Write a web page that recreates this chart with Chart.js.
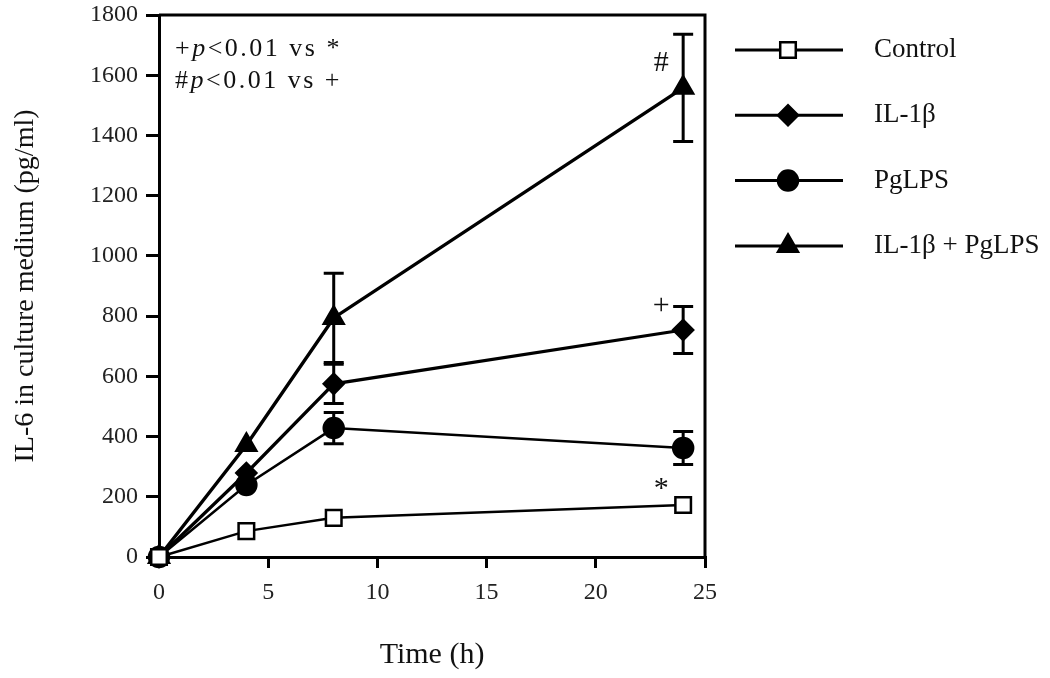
<!DOCTYPE html>
<html>
<head>
<meta charset="utf-8">
<script src="https://cdn.jsdelivr.net/npm/chart.js@4.4.1/dist/chart.umd.min.js"></script>
<style>
  html, body { margin: 0; padding: 0; background: #fff; }
  #wrap { width: 1050px; height: 678px; }
</style>
</head>
<body>
<div id="wrap"><canvas id="il6Chart" width="1050" height="678"></canvas></div>
<script>
// time points (h) and mean IL-6 values (pg/ml)
const hours = [0, 4, 8, 24];
const control = [0, 86, 130, 173];
const il1b = [0, 279, 575, 754];
const pglps = [0, 239, 428, 362];
const combo = [0, 372, 794, 1558];

// error bars (SD)
const controlSd = [0, 0, 0, 0];
const il1bSd = [0, 0, 65, 78];
const pglpsSd = [0, 0, 52, 55];
const comboSd = [0, 0, 148, 178];

const seriesNames = ['Control', 'IL-1β', 'PgLPS', 'IL-1β + PgLPS'];
const sigMarks = ['*', '+', '', '#'];
const xTickValues = [0, 5, 10, 15, 20, 25];
const yTickValues = [0, 200, 400, 600, 800, 1000, 1200, 1400, 1600, 1800];

const serif = '"Liberation Serif", "Times New Roman", serif';
Chart.defaults.font.family = serif;
Chart.defaults.color = '#222';

function points(values) {
    return hours.map((h, i) => ({ x: h, y: values[i] }));
}

// error bars under the markers
const errorBars = {
    id: 'errorBars',
    beforeDatasetsDraw(chart) {
        const ctx = chart.ctx, xs = chart.scales.x, ys = chart.scales.y;
        ctx.save();
        ctx.strokeStyle = '#000';
        ctx.lineWidth = 3;
        chart.data.datasets.forEach(ds => {
            ds.data.forEach((p, i) => {
                const sd = ds.sd[i];
                if (!sd) return;
                const x = xs.getPixelForValue(p.x);
                const yTop = ys.getPixelForValue(p.y + sd);
                const yBot = ys.getPixelForValue(p.y - sd);
                ctx.beginPath();
                ctx.moveTo(x, yTop); ctx.lineTo(x, yBot);
                ctx.moveTo(x - 10, yTop); ctx.lineTo(x + 10, yTop);
                ctx.moveTo(x - 10, yBot); ctx.lineTo(x + 10, yBot);
                ctx.stroke();
            });
        });
        ctx.restore();
    }
};

// box, significance notes, legend on the right
const extras = {
    id: 'extras',
    afterDraw(chart) {
        const ctx = chart.ctx, area = chart.chartArea;
        const xs = chart.scales.x, ys = chart.scales.y;
        ctx.save();

        // top + right frame
        ctx.strokeStyle = '#000';
        ctx.lineWidth = 3;
        ctx.beginPath();
        ctx.moveTo(area.left, area.top);
        ctx.lineTo(area.right, area.top);
        ctx.lineTo(area.right, area.bottom);
        ctx.stroke();

        // stat notes
        ctx.fillStyle = '#111';
        ctx.textBaseline = 'alphabetic';
        if ('letterSpacing' in ctx) ctx.letterSpacing = '2.5px';
        const notes = [['+', 'p', '<0.01 vs *'], ['#', 'p', '<0.01 vs +']];
        notes.forEach((parts, k) => {
            let x = area.left + 16;
            const y = 56 + k * 32;
            parts.forEach((txt, j) => {
                ctx.font = (j === 1 ? 'italic ' : '') + '26px ' + serif;
                ctx.fillText(txt, x, y);
                x += ctx.measureText(txt).width;
            });
        });
        if ('letterSpacing' in ctx) ctx.letterSpacing = '0px';

        // marks next to the 24 h points
        ctx.font = '30px ' + serif;
        ctx.textAlign = 'center';
        ctx.textBaseline = 'middle';
        const offsets = { '*': -16, '+': 0, '#': 29 };
        chart.data.datasets.forEach((ds, i) => {
            const m = sigMarks[i];
            if (!m) return;
            const last = ds.data[ds.data.length - 1];
            const x = xs.getPixelForValue(last.x) - 22;
            const y = ys.getPixelForValue(last.y + ds.sd[ds.sd.length - 1]) + offsets[m];
            ctx.fillText(m, x, y);
        });

        // legend
        ctx.textAlign = 'left';
        ctx.font = '27px ' + serif;
        chart.data.datasets.forEach((ds, i) => {
            const y = 50 + i * 65.3;
            ctx.strokeStyle = '#000';
            ctx.lineWidth = 3;
            ctx.beginPath();
            ctx.moveTo(735, y);
            ctx.lineTo(843, y);
            ctx.stroke();
            ctx.fillStyle = ds.pointBackgroundColor;
            ctx.lineWidth = ds.pointBorderWidth;
            Chart.helpers.drawPoint(ctx, {
                pointStyle: ds.pointStyle, radius: ds.pointRadius,
                borderWidth: ds.pointBorderWidth, rotation: 0
            }, 788, y);
            ctx.fillStyle = '#111';
            ctx.fillText(ds.label, 874, y);
        });
        ctx.restore();
    }
};

function series(label, values, sd, style, radius, fill, width) {
    return {
        label: label,
        data: points(values),
        sd: sd,
        borderColor: '#000',
        borderWidth: width,
        pointStyle: style,
        pointRadius: radius,
        pointHoverRadius: radius,
        pointBackgroundColor: fill,
        pointBorderColor: '#000',
        pointBorderWidth: 2.5,
        tension: 0,
        clip: false
    };
}

new Chart(document.getElementById('il6Chart'), {
    type: 'line',
    data: {
        datasets: [
            series(seriesNames[0], control, controlSd, 'rect', 11, '#fff', 2.5),
            series(seriesNames[1], il1b, il1bSd, 'rectRot', 10, '#000', 3.2),
            series(seriesNames[2], pglps, pglpsSd, 'circle', 10, '#000', 2.5),
            series(seriesNames[3], combo, comboSd, 'triangle', 11.5, '#000', 3.4)
        ]
    },
    options: {
        responsive: false,
        animation: false,
        layout: { padding: { top: 15, right: 345, left: 0, bottom: 0 } },
        plugins: { legend: { display: false }, tooltip: { enabled: false } },
        scales: {
            x: {
                type: 'linear',
                min: 0, max: 25,
                afterBuildTicks: s => { s.ticks = xTickValues.map(v => ({ value: v })); },
                afterFit: s => { s.height = 121; s.paddingLeft = 0; s.paddingRight = 0; },
                grid: { drawOnChartArea: false, tickLength: 11, color: '#000', lineWidth: 3 },
                border: { color: '#000', width: 3 },
                ticks: { padding: 10, font: { size: 24 }, color: '#222', callback: v => String(v) },
                title: { display: true, text: 'Time (h)', font: { size: 30 }, color: '#111', padding: { top: 0, bottom: 5 } }
            },
            y: {
                min: 0, max: 1800,
                afterBuildTicks: s => { s.ticks = yTickValues.map(v => ({ value: v })); },
                afterFit: s => { s.width = 159; s.paddingTop = 0; s.paddingBottom = 0; },
                grid: { drawOnChartArea: false, tickLength: 13, color: '#000', lineWidth: 3 },
                border: { color: '#000', width: 3 },
                ticks: { padding: 8, font: { size: 24 }, color: '#222', callback: v => String(v) },
                title: { display: true, text: 'IL-6 in culture medium (pg/ml)', font: { size: 28 }, color: '#111', padding: { top: 9, bottom: 0 } }
            }
        }
    },
    plugins: [errorBars, extras]
});
</script>
</body>
</html>
